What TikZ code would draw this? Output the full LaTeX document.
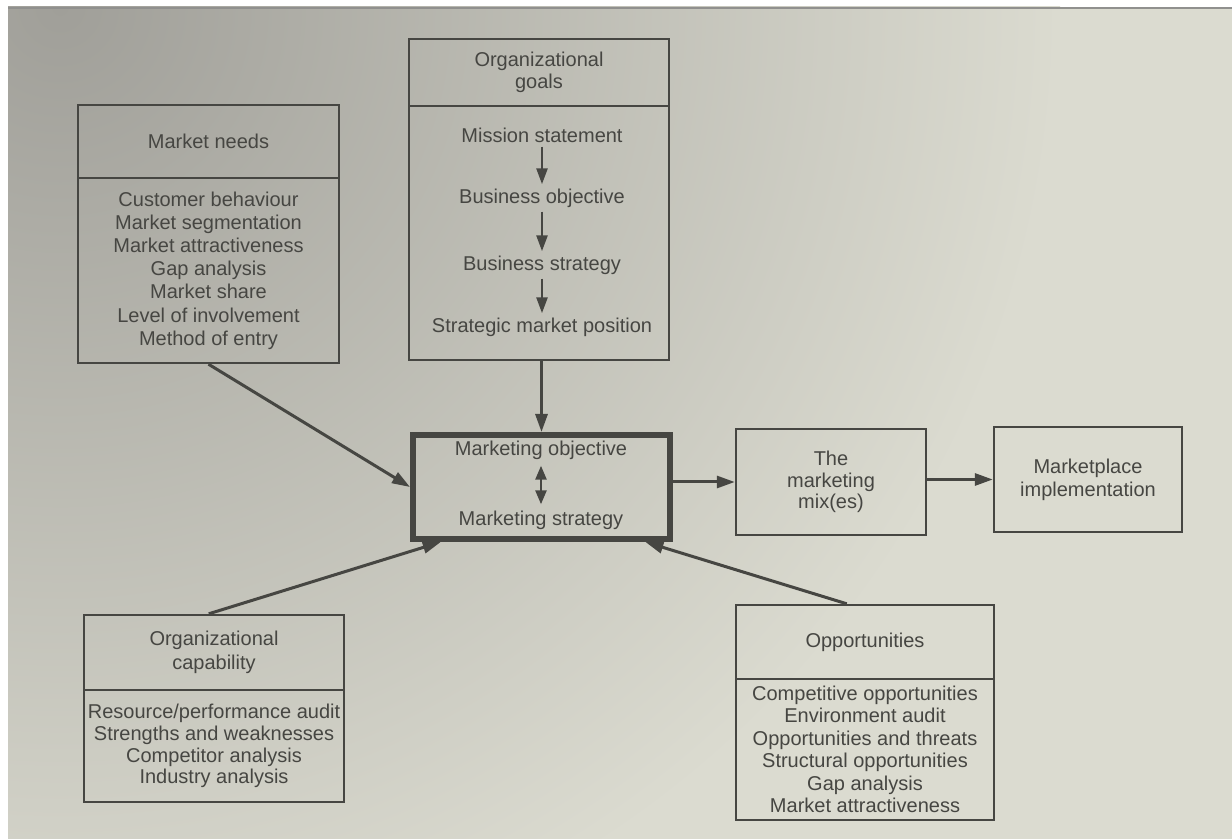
\documentclass[tikz,border=0pt]{standalone}
\usepackage{fontspec}
\setmainfont{Liberation Sans}
\usetikzlibrary{arrows.meta,calc}
\definecolor{ink}{RGB}{70,70,66}
\definecolor{bgdark}{RGB}{160,159,153}
\definecolor{bglight}{RGB}{219,219,208}
\begin{document}
\begin{tikzpicture}[x=0.5pt,y=-0.5pt,
  box/.style={draw=ink, line width=1.2pt, rectangle, inner sep=0pt, align=center,
    text=ink, font=\fontsize{10}{11.6}\selectfont},
  mainbox/.style={box, line width=2.8pt},
  txt/.style={inner sep=1pt, align=center, text=ink, font=\fontsize{10}{11.6}\selectfont},
  conn/.style={draw=ink, line width=1.5pt, -{Triangle[length=9pt,width=6pt]}},
  inarr/.style={draw=ink, line width=1.3pt, -{Triangle[length=8pt,width=5.5pt]}, shorten <=1pt, shorten >=1pt},
  dblarr/.style={draw=ink, line width=1.3pt, {Triangle[length=7pt,width=5.5pt]}-{Triangle[length=7pt,width=5.5pt]}, shorten <=2pt, shorten >=2pt}
]
\useasboundingbox (0,0) rectangle (1232,839);
\fill[white] (0,0) rectangle (1232,839);
\fill[bglight] (8,7) rectangle (1232,839);
\begin{scope}
  \clip (8,7) rectangle (1232,839);
  \shade[inner color=bgdark, outer color=bglight] (60,7) circle (1000);
\end{scope}
\draw[ink!60, line width=0.8pt] (8,8) -- (1232,8);

% Market needs
\node[box, minimum width=130.5pt, minimum height=36.5pt] (mnh) at (208.5,141.5) {Market needs};
\node[box, minimum width=130.5pt, minimum height=92.5pt] (mnb) at (208.5,270.5) {Customer behaviour\\Market segmentation\\Market attractiveness\\Gap analysis\\Market share\\Level of involvement\\Method of entry};

% Organizational goals
\node[box, minimum width=130pt, minimum height=33.5pt, font=\fontsize{10}{10.8}\selectfont] (ogh) at (539,72.5) {Organizational\\goals};
\node[box, minimum width=130pt, minimum height=127pt] (ogb) at (539,233) {};
\node[txt] (ms) at (542,135) {Mission statement};
\node[txt] (bo) at (542,198) {Business objective};
\node[txt] (bs) at (542,265) {Business strategy};
\node[txt] (sp) at (542,327) {Strategic market position};
\draw[inarr] (ms) -- (bo);
\draw[inarr] (bo) -- (bs);
\draw[inarr] (bs) -- (sp);

% Marketing objective / strategy
\node[mainbox, minimum width=128.7pt, minimum height=52.2pt] (mo) at (541.5,487) {};
\node[txt] (mobj) at (541,450) {Marketing objective};
\node[txt] (mstr) at (541,520) {Marketing strategy};
\draw[dblarr] (mobj) -- (mstr);

% Marketing mix and marketplace
\node[box, minimum width=95pt, minimum height=53pt, font=\fontsize{10}{10.75}\selectfont] (mix) at (831,482) {The\\marketing\\mix(es)};
\node[box, minimum width=94pt, minimum height=52.5pt] (mp) at (1088,479.5) {Marketplace\\implementation};

% Organizational capability
\node[box, minimum width=130pt, minimum height=37.5pt, font=\fontsize{10}{12.2}\selectfont] (och) at (214,652.5) {Organizational\\capability};
\node[box, minimum width=130pt, minimum height=56pt, font=\fontsize{10}{10.9}\selectfont] (ocb) at (214,746) {Resource/performance audit\\Strengths and weaknesses\\Competitor analysis\\Industry analysis};

% Opportunities
\node[box, minimum width=129pt, minimum height=37pt] (oph) at (865,642) {Opportunities};
\node[box, minimum width=129pt, minimum height=70.5pt, font=\fontsize{10}{11.25}\selectfont] (opb) at (865,749.5) {Competitive opportunities\\Environment audit\\Opportunities and threats\\Structural opportunities\\Gap analysis\\Market attractiveness};

% Connectors
\draw[conn] (mnb.south) -- (mo.west);
\draw[conn] (ogb.south -| mo.north) -- (mo.north);
\draw[conn] ($(och.north west)!0.48!(och.north east)$) -- ($(mo.south west)!0.117!(mo.south east)$);
\draw[conn] ($(oph.north west)!0.43!(oph.north east)$) -- ($(mo.south west)!0.895!(mo.south east)$);
\draw[conn] (mo.east |- mix.west) -- (mix.west);
\draw[conn] (mix.east |- mp.west) -- (mp.west);
\end{tikzpicture}
\end{document}
